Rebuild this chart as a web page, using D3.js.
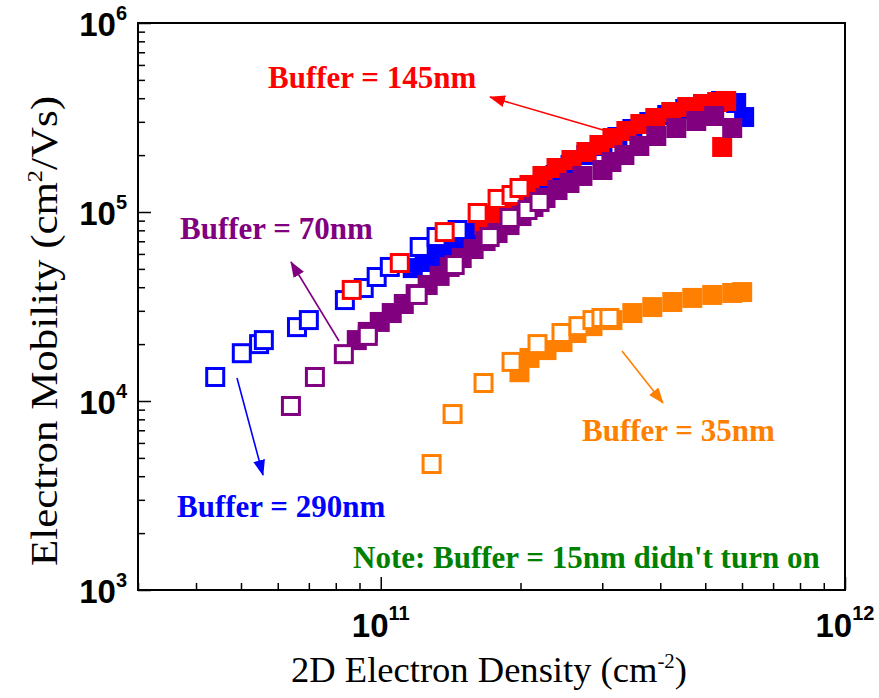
<!DOCTYPE html>
<html>
<head>
<meta charset="utf-8">
<script src="https://cdn.jsdelivr.net/npm/d3@7"></script>
<style>
  body { margin: 0; background: #fff; }
</style>
</head>
<body>
<svg width="879" height="698"></svg>
<script>
// values: [2D electron density (cm^-2), mobility (cm^2/Vs)]
const blueFilled = [
  [1.172e11, 5.05e4], [1.243e11, 5.44e4], [1.319e11, 5.85e4], [1.400e11, 6.37e4],
  [1.494e11, 7.02e4], [1.593e11, 7.74e4], [1.699e11, 8.64e4], [1.803e11, 9.64e4],
  [1.922e11, 1.089e5], [2.061e11, 1.230e5], [2.208e11, 1.39e5], [2.379e11, 1.57e5],
  [2.563e11, 1.773e5], [2.773e11, 2.002e5], [3.003e11, 2.235e5], [3.234e11, 2.493e5],
  [3.483e11, 2.749e5], [3.789e11, 2.993e5], [4.141e11, 3.26e5], [4.528e11, 3.508e5],
  [4.950e11, 3.727e5], [5.411e11, 3.867e5], [5.829e11, 3.774e5], [6.064e11, 3.18e5]
];
const blueOpen = [
  [4.40e10, 1.34e4], [5.02e10, 1.79e4], [5.47e10, 2.00e4], [5.60e10, 2.10e4],
  [6.60e10, 2.46e4], [7.00e10, 2.68e4], [8.37e10, 3.42e4], [9.19e10, 3.96e4],
  [9.80e10, 4.53e4], [1.046e11, 5.12e4], [1.213e11, 6.53e4], [1.319e11, 7.37e4],
  [1.464e11, 8.03e4]
];
const redFilled = [
  [1.674e11, 8.53e4], [1.776e11, 9.64e4], [1.866e11, 1.089e5], [1.970e11, 1.230e5],
  [2.091e11, 1.39e5], [2.230e11, 1.551e5], [2.391e11, 1.709e5], [2.575e11, 1.884e5],
  [2.773e11, 2.077e5], [2.958e11, 2.262e5], [3.155e11, 2.463e5], [3.381e11, 2.683e5],
  [3.624e11, 2.921e5], [3.903e11, 3.143e5], [4.224e11, 3.381e5], [4.573e11, 3.593e5],
  [4.950e11, 3.727e5], [5.305e11, 3.82e5], [5.547e11, 3.867e5], [5.438e11, 2.208e5]
];
const redOpen = [
  [8.66e10, 3.87e4], [1.099e11, 5.37e4], [1.373e11, 7.83e4], [1.617e11, 9.88e4],
  [1.785e11, 1.172e5], [1.913e11, 1.230e5], [1.990e11, 1.34e5]
];
const purpleFilled = [
  [8.879e10, 2.10e4], [9.376e10, 2.32e4], [9.95e10, 2.62e4], [1.056e11, 2.92e4],
  [1.121e11, 3.26e4], [1.189e11, 3.68e4], [1.262e11, 4.11e4], [1.339e11, 4.59e4],
  [1.407e11, 5.12e4], [1.494e11, 5.71e4], [1.585e11, 6.37e4], [1.682e11, 7.02e4],
  [1.785e11, 7.74e4], [1.894e11, 8.53e4], [2.010e11, 9.52e4], [2.133e11, 1.063e5],
  [2.264e11, 1.186e5], [2.403e11, 1.307e5], [2.550e11, 1.424e5], [2.719e11, 1.551e5],
  [3.003e11, 1.668e5], [3.140e11, 1.839e5], [3.348e11, 2.002e5], [3.606e11, 2.235e5],
  [3.922e11, 2.524e5], [4.331e11, 2.782e5], [4.782e11, 3.03e5], [5.227e11, 3.22e5],
  [5.715e11, 2.782e5]
];
const purpleOpen = [
  [6.405e10, 9.41e3], [7.214e10, 1.34e4], [8.327e10, 1.77e4], [9.376e10, 2.21e4],
  [1.201e11, 3.64e4], [1.443e11, 5.24e4], [1.716e11, 7.37e4], [1.894e11, 9.30e4],
  [2.071e11, 1.025e5], [2.198e11, 1.13e5]
];
const orangeFilled = [
  [1.990e11, 1.42e4], [2.091e11, 1.69e4], [2.275e11, 1.86e4], [2.463e11, 2.05e4],
  [2.640e11, 2.29e4], [2.858e11, 2.49e4], [3.155e11, 2.68e4], [3.483e11, 2.92e4],
  [3.845e11, 3.14e4], [4.246e11, 3.34e4], [4.688e11, 3.51e4], [5.176e11, 3.64e4],
  [5.715e11, 3.73e4], [6.005e11, 3.77e4]
];
const orangeOpen = [
  [1.287e11, 4.64e3], [1.428e11, 8.53e3], [1.665e11, 1.245e4], [1.913e11, 1.61e4],
  [2.176e11, 2.00e4], [2.451e11, 2.29e4], [2.666e11, 2.49e4], [2.858e11, 2.68e4],
  [2.988e11, 2.75e4], [3.109e11, 2.75e4]
];

const xMajor = [1e11, 1e12];
const yMajor = [1e3, 1e4, 1e5, 1e6];

const series = [
  { filled: blueFilled, open: blueOpen, color: '#0000ff' },
  { filled: redFilled, open: redOpen, color: '#ff0000' },
  { filled: purpleFilled, open: purpleOpen, color: '#800080' },
  { filled: orangeFilled, open: orangeOpen, color: '#ff8000' }
];

const svg = d3.select('svg');
const margin = { top: 23, right: 34, bottom: 108, left: 138 };
const width = +svg.attr('width');
const height = +svg.attr('height');

const x = d3.scaleLog().domain([3e10, 1e12]).range([margin.left, width - margin.right]);
const y = d3.scaleLog().domain([1e3, 1e6]).range([height - margin.bottom, margin.top]);

// minor ticks (2..9 of each decade inside the domain)
function isMajor(v) {
  const l = Math.log10(v);
  return Math.abs(l - Math.round(l)) < 1e-9;
}
function minors(scale) {
  const [a, b] = scale.domain();
  return scale.ticks(30).filter(v => v >= a && v <= b && !isMajor(v));
}

//markers
const sq = 20;
series.forEach(s => {
  svg.append('g').selectAll('rect')
    .data(s.filled).enter().append('rect')
      .attr('x', d => x(d[0]) - sq / 2)
      .attr('y', d => y(d[1]) - sq / 2)
      .attr('width', sq)
      .attr('height', sq)
      .attr('fill', s.color);
  svg.append('g').selectAll('rect')
    .data(s.open).enter().append('rect')
      .attr('x', d => x(d[0]) - (sq - 3) / 2)
      .attr('y', d => y(d[1]) - (sq - 3) / 2)
      .attr('width', sq - 3)
      .attr('height', sq - 3)
      .attr('fill', '#fff')
      .attr('stroke', s.color)
      .attr('stroke-width', 3);
});

// frame
svg.append('rect')
  .attr('x', margin.left).attr('y', margin.top)
  .attr('width', width - margin.left - margin.right)
  .attr('height', height - margin.top - margin.bottom)
  .attr('fill', 'none').attr('stroke', '#000').attr('stroke-width', 2);

// axes with inward ticks
const xAxisG = svg.append('g').attr('transform', `translate(0,${height - margin.bottom})`);
xAxisG.call(d3.axisBottom(x).tickValues(xMajor).tickSize(-13).tickFormat(''));
xAxisG.append('g').call(d3.axisBottom(x).tickValues(minors(x)).tickSize(-7).tickFormat(''));
const yAxisG = svg.append('g').attr('transform', `translate(${margin.left},0)`);
yAxisG.call(d3.axisLeft(y).tickValues(yMajor).tickSize(-13).tickFormat(''));
yAxisG.append('g').call(d3.axisLeft(y).tickValues(minors(y)).tickSize(-7).tickFormat(''));
svg.selectAll('.domain').remove();
svg.selectAll('.tick line').attr('stroke', '#000').attr('stroke-width', 1.5);

// tick labels 10^n
const tickFont = "'Liberation Sans', Arial, sans-serif";
yMajor.forEach(v => {
  const t = svg.append('text')
    .attr('x', margin.left - 11)
    .attr('y', y(v) + 13)
    .attr('text-anchor', 'end')
    .attr('font-family', tickFont)
    .attr('font-weight', 'bold')
    .attr('font-size', 33);
  t.append('tspan').text('10');
  t.append('tspan').attr('dy', -16).attr('font-size', 20).text(Math.round(Math.log10(v)));
});
xMajor.forEach(v => {
  const t = svg.append('text')
    .attr('x', x(v))
    .attr('y', 637)
    .attr('text-anchor', 'middle')
    .attr('font-family', tickFont)
    .attr('font-weight', 'bold')
    .attr('font-size', 33);
  t.append('tspan').text('10');
  t.append('tspan').attr('dy', -17).attr('font-size', 20).text(Math.round(Math.log10(v)));
});

// axis titles
const serif = "'Liberation Serif', 'Times New Roman', serif";
const xt = svg.append('text')
  .attr('x', 489).attr('y', 682)
  .attr('text-anchor', 'middle')
  .attr('font-family', serif).attr('font-size', 35)
  .attr('textLength', 396).attr('lengthAdjust', 'spacingAndGlyphs');
xt.append('tspan').text('2D Electron Density (cm');
xt.append('tspan').attr('dy', -14).attr('font-size', 20).text('-2');
xt.append('tspan').attr('dy', 14).text(')');

const yt = svg.append('text')
  .attr('transform', 'translate(57,331) rotate(-90)')
  .attr('text-anchor', 'middle')
  .attr('font-family', serif).attr('font-size', 37)
  .attr('textLength', 470).attr('lengthAdjust', 'spacingAndGlyphs');
yt.append('tspan').text('Electron Mobility (cm');
yt.append('tspan').attr('dy', -15).attr('font-size', 21).text('2');
yt.append('tspan').attr('dy', 15).text('/Vs)');

// annotations
const arrows = [
  { x1: 603, y1: 130, x2: 490, y2: 97, color: '#ff0000' },
  { x1: 339, y1: 341, x2: 291, y2: 262, color: '#800080' },
  { x1: 237, y1: 378, x2: 263, y2: 475, color: '#0000ff' },
  { x1: 622, y1: 351, x2: 663, y2: 403, color: '#ff8000' }
];
const defs = svg.append('defs');
arrows.forEach((a, i) => {
  defs.append('marker')
    .attr('id', 'ah' + i)
    .attr('viewBox', '0 0 16 12')
    .attr('refX', 15).attr('refY', 6)
    .attr('markerWidth', 16).attr('markerHeight', 12)
    .attr('markerUnits', 'userSpaceOnUse')
    .attr('orient', 'auto')
    .append('path').attr('d', 'M0,0 L16,6 L0,12 Z').attr('fill', a.color);
  svg.append('line')
    .attr('x1', a.x1).attr('y1', a.y1).attr('x2', a.x2).attr('y2', a.y2)
    .attr('stroke', a.color).attr('stroke-width', 1.6)
    .attr('marker-end', `url(#ah${i})`);
});

const notes = [
  { text: 'Buffer = 145nm', x: 268, y: 88, color: '#ff0000' },
  { text: 'Buffer = 70nm', x: 180, y: 239, color: '#800080' },
  { text: 'Buffer = 290nm', x: 177, y: 517, color: '#0000ff' },
  { text: 'Buffer = 35nm', x: 582, y: 441, color: '#ff8000' },
  { text: "Note: Buffer = 15nm didn't turn on", x: 353, y: 568, color: '#008000' }
];
svg.selectAll('.note')
  .data(notes).enter().append('text')
    .attr('class', 'note')
    .attr('x', d => d.x)
    .attr('y', d => d.y)
    .attr('fill', d => d.color)
    .attr('font-family', serif)
    .attr('font-weight', 'bold')
    .attr('font-size', 31)
    .text(d => d.text);
</script>
</body>
</html>
